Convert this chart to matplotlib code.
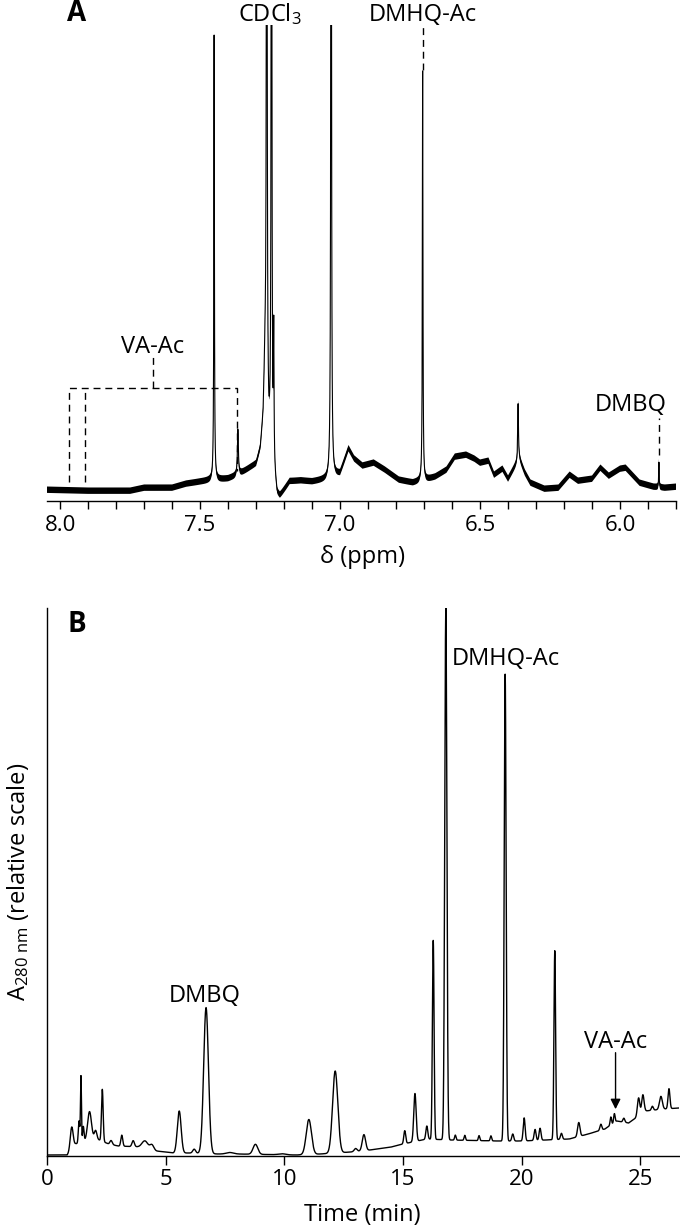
"""NMR spectrum (A) and HPLC trace (B) of the acetylated products."""

import numpy as np
import matplotlib

matplotlib.use("Agg")
import matplotlib.pyplot as plt

plt.rcParams["font.family"] = ["Open Sans", "DejaVu Sans"]
plt.rcParams["mathtext.fontset"] = "custom"
plt.rcParams["mathtext.rm"] = "Open Sans"
plt.rcParams["mathtext.it"] = "Open Sans:italic"

# --- panel A: 1H NMR, baseline shape (ppm, intensity)
nmr_base_ppm = [8.05, 7.90, 7.75, 7.70, 7.60, 7.55, 7.50, 7.47, 7.43, 7.40, 7.38,
                7.35, 7.32, 7.30, 7.285, 7.275, 7.268, 7.255, 7.225, 7.215, 7.20,
                7.18, 7.14, 7.10, 7.05, 7.00, 6.97, 6.95, 6.92, 6.88, 6.84, 6.79,
                6.74, 6.70, 6.66, 6.62, 6.59, 6.55, 6.52, 6.50, 6.47, 6.45, 6.42,
                6.40, 6.38, 6.36, 6.34, 6.32, 6.27, 6.22, 6.18, 6.15, 6.10, 6.07,
                6.04, 6.00, 5.98, 5.95, 5.93, 5.88, 5.84, 5.80]
nmr_base_int = [11, 10, 10, 13, 13, 17, 19, 20, 21, 22, 24,
                28, 33, 36, 50, 80, 140, 60, 4, 3, 10,
                19, 20, 19, 21, 27, 52, 42, 35, 38, 31, 21,
                18, 20, 24, 31, 44, 46, 42, 38, 40, 26, 32,
                22, 32, 42, 28, 18, 12, 13, 26, 20, 22, 33,
                25, 32, 33, 24, 18, 14, 13, 14]
# sharp lines: position (ppm), height, half width (ppm)
nmr_peak_ppm = [7.450, 7.365, 7.262, 7.245, 7.237, 7.032, 6.705, 6.364, 5.861]
nmr_peak_int = [445, 45, 1200, 1200, 130, 1200, 410, 57, 25]
nmr_peak_hw = [0.0012, 0.002, 0.0012, 0.0012, 0.0012, 0.0012, 0.0012, 0.0015, 0.001]

# --- panel B: HPLC trace at 280 nm, baseline (min, abs) and peaks
lc_base_t = [0, 0.85, 1.2, 2.0, 2.6, 3.0, 4.0, 4.6, 5.0, 5.3, 6.0, 7.2, 8.0, 10.5,
             11.5, 12.8, 13.6, 14.5, 15.0, 16.0, 17.0, 19.0, 20.0, 21.0, 22.0,
             22.8, 23.5, 24.0, 24.5, 24.8, 25.2, 26.0, 26.61]
lc_base_abs = [1, 1, 12, 18, 12, 10, 9, 5, 4, 3, 3, 2, 2, 1,
               2, 4, 6, 9, 12, 17, 16, 15, 15, 16, 17,
               22, 27, 35, 33, 38, 45, 47, 48]
lc_peak_t = [1.04, 1.35, 1.43, 1.53, 1.79, 2.05, 2.33, 2.7, 3.15, 3.63, 4.13, 4.42,
             5.57, 6.2, 6.70, 7.7, 8.78, 9.9, 11.03, 12.14, 13.0, 13.35, 15.07,
             15.5, 16.0, 16.27, 16.8, 17.2, 17.6, 18.2, 18.7, 19.3, 19.62, 20.1,
             20.56, 20.77, 21.39, 21.67, 22.4, 23.33, 23.75, 23.9, 24.3, 24.92,
             25.1, 25.5, 25.86, 26.2]
lc_peak_abs = [22, 22, 66, 15, 28, 8, 52, 4, 11, 6, 7, 5,
               42, 4, 146, 1.5, 10, 1, 35, 82, 3, 16, 13,
               48, 13, 199, 532, 5, 5, 5, 5, 467, 7, 23,
               11, 12, 189, 6, 14, 6, 8, 9, 4, 18,
               18, 4, 13, 20]
lc_peak_sd = [0.06, 0.03, 0.02, 0.03, 0.08, 0.05, 0.035, 0.05, 0.04, 0.05, 0.12, 0.08,
              0.08, 0.06, 0.1, 0.15, 0.1, 0.15, 0.11, 0.11, 0.06, 0.07, 0.04,
              0.05, 0.04, 0.035, 0.045, 0.03, 0.03, 0.03, 0.03, 0.04, 0.04, 0.04,
              0.04, 0.04, 0.035, 0.04, 0.05, 0.04, 0.03, 0.03, 0.04, 0.05,
              0.05, 0.04, 0.06, 0.04]

ppm_ticks = [8.0, 7.5, 7.0, 6.5, 6.0]
time_ticks = [0, 5, 10, 15, 20, 25]


def nmr_trace(ppm):
    y = np.interp(ppm, nmr_base_ppm[::-1], nmr_base_int[::-1])
    for c, h, g in zip(nmr_peak_ppm, nmr_peak_int, nmr_peak_hw):
        y = y + h * g ** 2 / (g ** 2 + (ppm - c) ** 2)
    return y


def lc_trace(t):
    y = np.interp(t, lc_base_t, lc_base_abs)
    for c, h, s in zip(lc_peak_t, lc_peak_abs, lc_peak_sd):
        y = y + h * np.exp(-0.5 * ((t - c) / s) ** 2)
    return y


fig = plt.figure(figsize=(6.8, 12.28), dpi=100)
W, H = 680.0, 1228.0
LBL = 17

# ---------------- panel A
axA = fig.add_axes([47 / W, 1 - 500.7 / H, 629 / W, 475.7 / H])
ppm = np.linspace(5.80, 8.05, 9001)
spec = nmr_trace(ppm)
axA.fill_between(ppm, spec - 3.2, spec + 3.2, color="black", lw=0)
axA.plot(ppm, spec, color="black", lw=0.8)
axA.set_xlim(8.047, 5.80)
axA.set_ylim(0, 475.7)
for s in ["left", "right", "top"]:
    axA.spines[s].set_visible(False)
axA.spines["bottom"].set_linewidth(1.0)
axA.set_yticks([])
axA.set_xticks(ppm_ticks)
axA.set_xticklabels([f"{v:.1f}" for v in ppm_ticks])
axA.set_xticks(np.arange(5.8, 8.05, 0.1), minor=True)
axA.tick_params(axis="x", which="both", direction="out", length=6, width=1.0,
                labelsize=16, pad=4)

dash = dict(color="black", lw=1.0, ls=(0, (5, 3.5)))
axA.text(7.94, 480, "A", fontsize=20, fontweight="bold", ha="center", va="baseline")
axA.text(7.252, 480, "CDCl$_3$", fontsize=LBL, ha="center", va="baseline")
axA.text(6.705, 480, "DMHQ-Ac", fontsize=LBL, ha="center", va="baseline")
axA.plot([6.705, 6.705], [430.7, 473.7], **dash)
axA.text(7.671, 147.4, "VA-Ac", fontsize=LBL, ha="center", va="baseline")
axA.plot([7.669, 7.669], [112.7, 143.7], **dash)
axA.plot([7.970, 7.970, 7.368, 7.368], [18.7, 112.7, 112.7, 29.7], **dash)
axA.plot([7.911, 7.911], [18.7, 112.7], **dash)
axA.text(5.963, 90, "DMBQ", fontsize=LBL, ha="center", va="baseline")
axA.plot([5.861, 5.861], [45.7, 82.7], **dash)
fig.text(362 / W, 1 - 557 / H, "δ (ppm)", fontsize=LBL, ha="center", va="center")

# ---------------- panel B
axB = fig.add_axes([47 / W, 1 - 1156 / H, 631.7 / W, 548 / H])
t = np.linspace(0, 26.61, 8001)
axB.plot(t, lc_trace(t), color="black", lw=1.0)
axB.set_xlim(0, 26.61)
axB.set_ylim(0, 548)
for s in ["right", "top"]:
    axB.spines[s].set_visible(False)
axB.spines["left"].set_linewidth(1.0)
axB.spines["bottom"].set_linewidth(1.0)
axB.set_yticks([])
axB.set_xticks(time_ticks)
axB.tick_params(axis="x", direction="out", length=6.5, width=1.0, labelsize=16, pad=3)

axB.text(1.25, 524.3, "B", fontsize=20, fontweight="bold", ha="center", va="baseline")
axB.text(6.66, 154, "DMBQ", fontsize=LBL, ha="center", va="baseline")
axB.text(19.31, 490.6, "DMHQ-Ac", fontsize=LBL, ha="center", va="baseline")
axB.text(23.95, 107.8, "VA-Ac", fontsize=LBL, ha="center", va="baseline")
axB.annotate("", xy=(23.95, 46.8), xytext=(23.95, 103.3),
             arrowprops=dict(arrowstyle="-|>", color="black", lw=1.0,
                             mutation_scale=15, shrinkA=0, shrinkB=0))
fig.text(362 / W, 1 - 1215 / H, "Time (min)", fontsize=LBL, ha="center", va="center")
fig.text(18 / W, 1 - 882 / H, "A$_{\\mathrm{280\\ nm}}$ (relative scale)", fontsize=LBL,
         rotation=90, ha="center", va="center")

fig.savefig("out.png", dpi=100)
